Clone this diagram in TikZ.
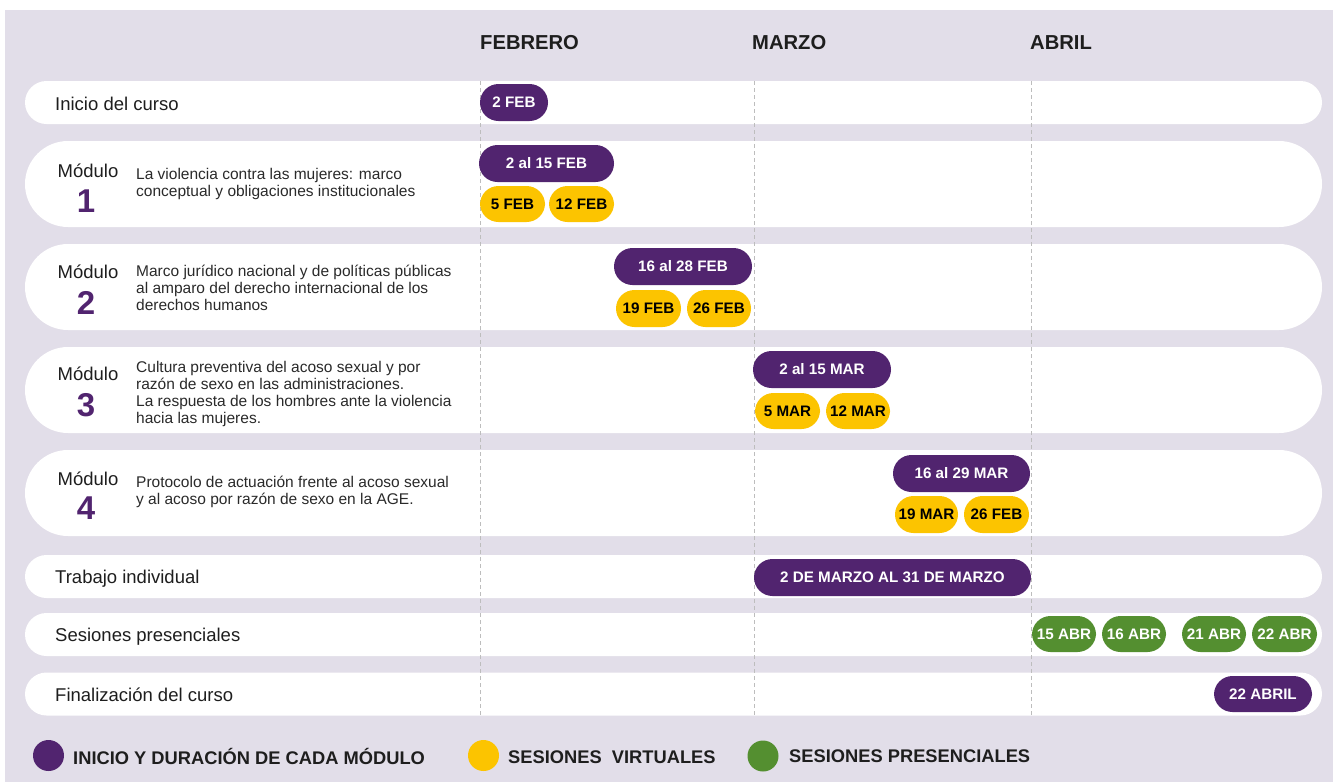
\documentclass[tikz,border=0pt]{standalone}
\usepackage{fontspec}
\setmainfont{Liberation Sans}
\definecolor{lav}{HTML}{E2DEE9}
\definecolor{purp}{HTML}{51246F}
\definecolor{yel}{HTML}{FCC400}
\definecolor{grn}{HTML}{548F30}
\definecolor{txt}{HTML}{1E1E1E}
\definecolor{desc}{HTML}{2A2A2A}
\definecolor{gridc}{HTML}{BDBDBD}
\tikzset{
  bar/.style={fill=white, draw=none, inner sep=0pt, minimum width=1297pt},
  sbar/.style={bar, minimum height=43pt, rounded corners=21.5pt},
  mbar/.style={bar, minimum height=86pt, rounded corners=43pt},
  pill/.style={inner sep=0pt, minimum height=37pt, rounded corners=18.5pt,
    font=\fontsize{15.2}{18}\selectfont\bfseries},
  ppill/.style={pill, fill=purp, text=white},
  ypill/.style={pill, fill=yel, text=black},
  gpill/.style={pill, fill=grn, text=white},
  month/.style={anchor=west, inner sep=0pt, text=txt, font=\fontsize{20.2}{24}\selectfont\bfseries},
  rowlabel/.style={anchor=base west, inner sep=0pt, text=txt, font=\fontsize{18.5}{22}\selectfont},
  modword/.style={anchor=base, inner sep=0pt, text=txt, font=\fontsize{18.5}{22}\selectfont},
  modnum/.style={anchor=base, inner sep=0pt, text=purp, font=\fontsize{33}{33}\selectfont\bfseries},
  desctext/.style={anchor=north west, inner sep=0pt, align=left, text=desc, font=\fontsize{15.5}{17}\selectfont},
  gridline/.style={draw=gridc, line width=0.9pt, dash pattern=on 4pt off 3pt},
  legdot/.style={circle, inner sep=0pt, minimum size=31pt},
  legtext/.style={anchor=base west, inner sep=0pt, text=txt, font=\fontsize{18.3}{22}\selectfont\bfseries}
}
\begin{document}
\begin{tikzpicture}[x=1pt, y=-1pt]
\useasboundingbox (0,0) rectangle (1333,782);
\fill[white] (0,0) rectangle (1333,782);
\fill[lav] (5,10) rectangle (1333,782);

% month headers
\node[month] (feb) at (480,42.5) {FEBRERO};
\node[month] (mar) at (752,42.5) {MARZO};
\node[month] (abr) at (1030,42.5) {ABRIL};

% row bars
\node[sbar] (bInicio) at (673.5,102.5) {};
\node[mbar] (bM1) at (673.5,184) {};
\node[mbar] (bM2) at (673.5,287) {};
\node[mbar] (bM3) at (673.5,390) {};
\node[mbar] (bM4) at (673.5,493) {};
\node[sbar] (bTrab) at (673.5,576.5) {};
\node[sbar] (bSes) at (673.5,634.5) {};
\node[sbar] (bFin) at (673.5,694) {};

% grid lines
\coordinate (g1t) at (480,81); \coordinate (g1b) at (480,716);
\coordinate (g2t) at (754,81); \coordinate (g2b) at (754,716);
\coordinate (g3t) at (1031,81); \coordinate (g3b) at (1031,716);
\draw[gridline] (g1t) -- (g1b);
\draw[gridline] (g2t) -- (g2b);
\draw[gridline] (g3t) -- (g3b);

% row labels
\node[rowlabel] (lInicio) at (55,110) {Inicio del curso};
\node[rowlabel] (lTrab) at (55,583.5) {Trabajo individual};
\node[rowlabel] (lSes) at (55,641) {Sesiones presenciales};
\node[rowlabel] (lFin) at (55,701) {Finalización del curso};

% modules
\node[modword] (w1) at (88,177) {Módulo};
\node[modnum] (n1) at (86,212) {1};
\node[desctext] (d1) at (136,167.1) {\strut La violencia contra las mujeres: marco\\conceptual y obligaciones institucionales};

\node[modword] (w2) at (88,278) {Módulo};
\node[modnum] (n2) at (86,314) {2};
\node[desctext] (d2) at (136,264.1) {\strut Marco jurídico nacional y de políticas públicas\\al amparo del derecho internacional de los\\derechos humanos};

\node[modword] (w3) at (88,380) {Módulo};
\node[modnum] (n3) at (86,416) {3};
\node[desctext] (d3) at (136,360.1) {\strut Cultura preventiva del acoso sexual y por\\razón de sexo en las administraciones.\\La respuesta de los hombres ante la violencia\\hacia las mujeres.};

\node[modword] (w4) at (88,485) {Módulo};
\node[modnum] (n4) at (86,519) {4};
\node[desctext] (d4) at (136,475.1) {\strut Protocolo de actuación frente al acoso sexual\\y al acoso por razón de sexo en la AGE.};

% pills
\node[ppill, minimum width=68pt] (p2feb) at (514,102.5) {2 FEB};
\node[ppill, minimum width=135pt] (pM1) at (546.5,163.5) {2 al 15 FEB};
\node[ypill, minimum width=65pt, minimum height=36pt] (y5feb) at (512.5,204) {5 FEB};
\node[ypill, minimum width=65pt, minimum height=36pt] (y12feb) at (581.5,204) {12 FEB};

\node[ppill, minimum width=138pt] (pM2) at (683,266.5) {16 al 28 FEB};
\node[ypill, minimum width=65pt] (y19feb) at (648.5,308.5) {19 FEB};
\node[ypill, minimum width=64pt] (y26feb) at (719,308.5) {26 FEB};

\node[ppill, minimum width=138pt] (pM3) at (822,369.5) {2 al 15 MAR};
\node[ypill, minimum width=65pt, minimum height=36pt] (y5mar) at (787.5,411) {5 MAR};
\node[ypill, minimum width=64pt, minimum height=36pt] (y12mar) at (858,411) {12 MAR};

\node[ppill, minimum width=137pt] (pM4) at (961.5,473.5) {16 al 29 MAR};
\node[ypill, minimum width=63pt] (y19mar) at (926.5,514.5) {19 MAR};
\node[ypill, minimum width=65pt] (y26feb2) at (996.5,514.5) {26 FEB};

\node[ppill, minimum width=277pt] (pTrab) at (892.5,577.5) {2 DE MARZO AL 31 DE MARZO};

\node[gpill, minimum width=64pt, minimum height=36pt] (g15) at (1064,634) {15 ABR};
\node[gpill, minimum width=64pt, minimum height=36pt] (g16) at (1134,634) {16 ABR};
\node[gpill, minimum width=64pt, minimum height=36pt] (g21) at (1214,634) {21 ABR};
\node[gpill, minimum width=65pt, minimum height=36pt] (g22) at (1284.5,634) {22 ABR};

\node[ppill, minimum width=98pt, minimum height=36pt] (pFin) at (1263,694) {22 ABRIL};

% legend
\node[legdot, fill=purp] (lgP) at (48.5,755.5) {};
\node[legtext] (ltP) at (73,764) {INICIO Y DURACIÓN DE CADA MÓDULO};
\node[legdot, fill=yel] (lgY) at (483.5,755.5) {};
\node[legtext] (ltY) at (508,763.5) {SESIONES\ \ VIRTUALES};
\node[legdot, fill=grn] (lgG) at (763,756) {};
\node[legtext] (ltG) at (789,762) {SESIONES PRESENCIALES};
\end{tikzpicture}
\end{document}
